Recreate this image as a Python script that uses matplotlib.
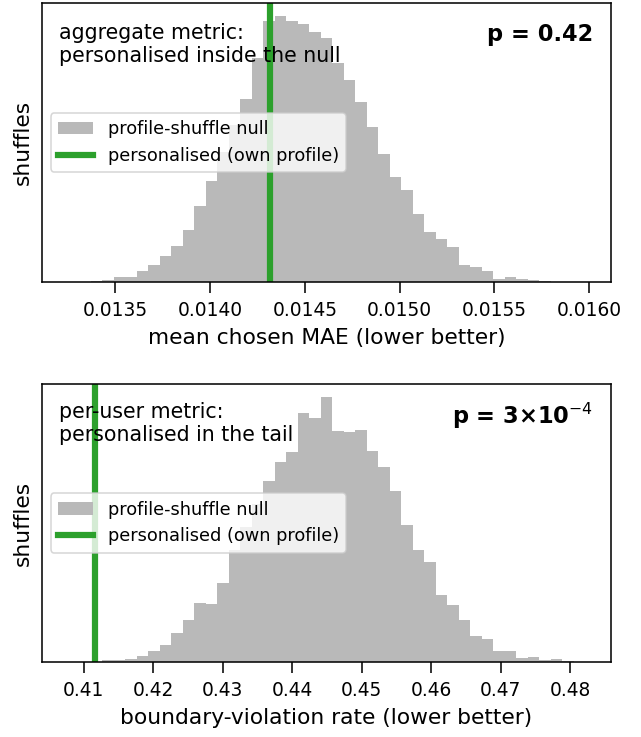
import numpy as np
import matplotlib
matplotlib.use("Agg")
import matplotlib.pyplot as plt

# ---------------- data ----------------
# top panel: aggregate metric (mean chosen MAE), 45-bin null histogram
mae_range = (0.01325, 0.015979)
mae_counts = [1, 0, 2, 4, 13, 12, 28, 43, 66, 92, 133, 195, 259, 333, 404,
              470, 575, 671, 683, 672, 664, 642, 626, 562, 518, 462, 398, 328,
              271, 236, 174, 129, 110, 91, 43, 38, 28, 8, 13, 8, 5, 3, 1, 0, 1]
mae_personalised = 0.014318
mae_p_text = "p = 0.42"

# bottom panel: per-user metric (boundary-violation rate)
bvr_range = (0.40774, 0.48211)
bvr_counts = [1, 0, 1, 4, 5, 8, 16, 29, 43, 74, 107, 149, 147, 201, 284,
              343, 401, 459, 508, 535, 634, 620, 673, 588, 584, 590, 536, 495,
              434, 347, 284, 253, 171, 146, 107, 65, 59, 28, 28, 11, 13, 4, 8, 2, 1]
bvr_personalised = 0.41167
bvr_p_text = "p = 3×10$^{-4}$"

panel_notes = ["aggregate metric:\npersonalised inside the null",
               "per-user metric:\npersonalised in the tail"]
xlabels = ["mean chosen MAE (lower better)",
           "boundary-violation rate (lower better)"]
mae_ticks = [0.0135, 0.0140, 0.0145, 0.0150, 0.0155, 0.0160]
bvr_ticks = [0.41, 0.42, 0.43, 0.44, 0.45, 0.46, 0.47, 0.48]

# ---------------- figure ----------------
DPI = 112
fig = plt.figure(figsize=(641 / DPI, 737 / DPI), dpi=DPI)
plt.rcParams["axes.linewidth"] = 1.0

W, H = 641, 737
ax_top = fig.add_axes([42 / W, (H - 282) / H, 569 / W, 279 / H])
ax_bot = fig.add_axes([42 / W, (H - 662) / H, 569 / W, 278 / H])

grey = "#b9b9b9"
green = "#2ca02c"

panels = [
    (ax_top, mae_range, mae_counts, mae_personalised, mae_p_text, mae_ticks,
     "{:.4f}", 0.93, 0.928),
    (ax_bot, bvr_range, bvr_counts, bvr_personalised, bvr_p_text, bvr_ticks,
     "{:.2f}", 0.935, 0.94),
]

for i, (ax, rng, counts, pers, ptxt, ticks, fmt, ny, py) in enumerate(panels):
    edges = np.linspace(rng[0], rng[1], len(counts) + 1)
    ax.hist(edges[:-1], bins=edges, weights=counts, color=grey,
            label="profile-shuffle null")
    ax.axvline(pers, color=green, lw=4, label="personalised (own profile)")
    ax.set_yticks([])
    ax.set_ylabel("shuffles", fontsize=14, labelpad=6)
    ax.set_xlabel(xlabels[i], fontsize=14, labelpad=5)
    ax.set_xticks(ticks)
    ax.set_xticklabels([fmt.format(t) for t in ticks])
    ax.tick_params(axis="x", labelsize=12, length=7, width=1.0, pad=5.5)
    ax.text(0.03, ny, panel_notes[i], transform=ax.transAxes,
            ha="left", va="top", fontsize=13.2, linespacing=1.2)
    ax.text(0.968, py, ptxt, transform=ax.transAxes, ha="right", va="top",
            fontsize=14.5, fontweight="bold")
    ax.legend(loc="center left", fontsize=11.4)

fig.savefig("out.png", dpi=DPI)
